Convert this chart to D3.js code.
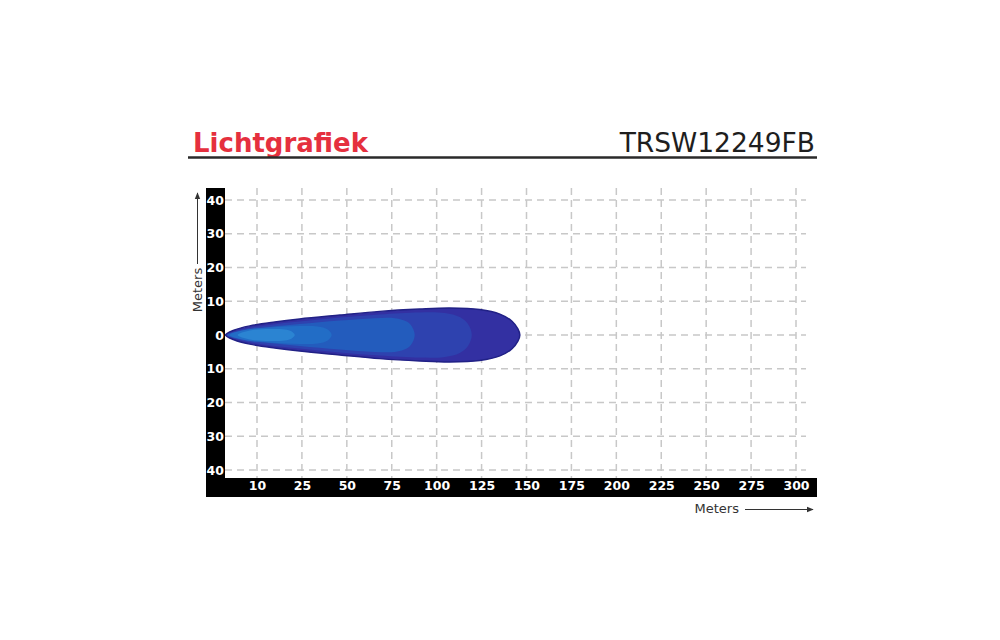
<!DOCTYPE html>
<html>
<head>
<meta charset="utf-8">
<script src="https://cdn.jsdelivr.net/npm/d3@7"></script>
<style>
  body { margin: 0; background: #fff; }
  svg { display: block; }
</style>
</head>
<body>
<svg id="chart" width="1000" height="640"></svg>
<script>
// chart data
var TITLE = "Lichtgrafiek";
var MODEL = "TRSW12249FB";
var X_TICKS = ["10", "25", "50", "75", "100", "125", "150", "175", "200", "225", "250", "275", "300"];
var Y_TICKS = [40, 30, 20, 10, 0, -10, -20, -30, -40];

// beam contours: [distance m, half width m], outer to inner
var ZONE_1 = [[-16.7, 0], [-11.7, 1.5], [-3.3, 2.7], [10.6, 3.85], [24.4, 4.75], [46.7, 5.9], [68.9, 7.0], [91.1, 7.7], [107.8, 8.0], [124.4, 7.55], [135.6, 6.2], [142.2, 4.15], [145.6, 1.8], [146.7, 0]];
var ZONE_2 = [[-16.1, 0], [-8.9, 1.5], [7.8, 3.0], [24.4, 4.0], [46.7, 5.2], [68.9, 6.1], [91.1, 6.7], [105, 6.5], [113.3, 5.3], [117.8, 3.3], [120, 0]];
var ZONE_3 = [[-15.6, 0], [-6.1, 1.5], [7.8, 2.4], [24.4, 3.25], [46.7, 4.3], [66.1, 5.0], [77.2, 5.0], [84.4, 3.85], [87.2, 2.1], [88.3, 0]];
var ZONE_4 = [[-14.4, 0], [-6.1, 1.5], [7.8, 2.2], [24.4, 2.65], [34.4, 2.5], [40, 1.6], [42.2, 0]];
var ZONE_5 = [[-10, 0], [-3.3, 1.33], [7.8, 1.78], [16.1, 1.63], [20, 1.04], [21.7, 0]];
var ZONE_COLORS = ["#3330a2", "#2e42af", "#235cbd", "#226dc6", "#2b84d2"];

var svg = d3.select("#chart");
var FONT = "Verdana, 'DejaVu Sans', sans-serif";

// scales
var xScale = d3.scaleLinear().domain([-17, 300]).range([225, 796]);
var xTickScale = d3.scalePoint().domain(X_TICKS).range([257, 796]);
var yScale = d3.scaleLinear().domain([-40, 40]).range([470, 200]);

// header
svg.append("text")
    .attr("x", 193).attr("y", 152)
    .attr("font-family", FONT)
    .attr("font-weight", "bold")
    .attr("font-size", 26)
    .attr("fill", "#e5303e")
    .text(TITLE);

svg.append("text")
    .attr("x", 815).attr("y", 152)
    .attr("text-anchor", "end")
    .attr("font-family", FONT)
    .attr("font-size", 26.5)
    .attr("fill", "#1e1e1e")
    .text(MODEL);

svg.append("line")
    .attr("x1", 188).attr("x2", 817)
    .attr("y1", 157.5).attr("y2", 157.5)
    .attr("stroke", "#2a2a2a")
    .attr("stroke-width", 2.5);

// grid
var grid = svg.append("g");
grid.selectAll(".hgrid")
    .data(Y_TICKS)
    .enter().append("line")
    .attr("x1", 225).attr("x2", 806)
    .attr("y1", d => yScale(d)).attr("y2", d => yScale(d))
    .attr("stroke", "#c8c8c8")
    .attr("stroke-width", 1.5)
    .attr("stroke-dasharray", "7,5");

grid.selectAll(".vgrid")
    .data(X_TICKS)
    .enter().append("line")
    .attr("x1", d => xTickScale(d)).attr("x2", d => xTickScale(d))
    .attr("y1", 188).attr("y2", 478)
    .attr("stroke", "#c8c8c8")
    .attr("stroke-width", 1.5)
    .attr("stroke-dasharray", "7,5");

// beam zones
function zonePoints(zone) {
    var top = zone.map(p => [xScale(p[0]), yScale(p[1])]);
    var bottom = zone.slice(1, -1).reverse().map(p => [xScale(p[0]), yScale(-p[1])]);
    return top.concat(bottom);
}

var shape = d3.line().curve(d3.curveCatmullRomClosed.alpha(0.5));
var zones = [ZONE_1, ZONE_2, ZONE_3, ZONE_4, ZONE_5];

var beam = svg.append("g");
beam.selectAll("path")
    .data(zones)
    .enter().append("path")
    .attr("d", d => shape(zonePoints(d)))
    .attr("fill", (d, i) => ZONE_COLORS[i])
    .attr("stroke", (d, i) => i == 0 ? "#212186" : "none")
    .attr("stroke-width", 1.5);

// black axis bars
svg.append("rect")
    .attr("x", 206).attr("y", 188)
    .attr("width", 19).attr("height", 309)
    .attr("fill", "#000");
svg.append("rect")
    .attr("x", 206).attr("y", 478)
    .attr("width", 611).attr("height", 19)
    .attr("fill", "#000");

// axis labels
var yAxis = svg.append("g")
    .attr("transform", "translate(224,0)")
    .call(d3.axisLeft(yScale).tickValues(Y_TICKS).tickSize(0).tickPadding(0).tickFormat(d => Math.abs(d)));
yAxis.select(".domain").remove();
yAxis.selectAll("text")
    .attr("fill", "#fff")
    .attr("font-family", FONT)
    .attr("font-weight", "bold")
    .attr("font-size", 12.5);

var xAxis = svg.append("g")
    .attr("transform", "translate(0,481)")
    .call(d3.axisBottom(xTickScale).tickSize(0).tickPadding(0));
xAxis.select(".domain").remove();
xAxis.selectAll("text")
    .attr("fill", "#fff")
    .attr("font-family", FONT)
    .attr("font-weight", "bold")
    .attr("font-size", 12.5);

// axis titles with arrows
var defs = svg.append("defs");
defs.append("marker")
    .attr("id", "arrow")
    .attr("viewBox", "0 0 10 10")
    .attr("refX", 9).attr("refY", 5)
    .attr("markerWidth", 7).attr("markerHeight", 7)
    .attr("orient", "auto")
    .append("path")
    .attr("d", "M0,1 L10,5 L0,9 Z")
    .attr("fill", "#333");

svg.append("text")
    .attr("transform", "translate(202,290) rotate(-90)")
    .attr("text-anchor", "middle")
    .attr("font-family", FONT)
    .attr("font-size", 13)
    .attr("fill", "#333")
    .text("Meters");
svg.append("line")
    .attr("x1", 197.5).attr("x2", 197.5)
    .attr("y1", 264).attr("y2", 193)
    .attr("stroke", "#333")
    .attr("stroke-width", 1)
    .attr("marker-end", "url(#arrow)");

svg.append("text")
    .attr("x", 739).attr("y", 513)
    .attr("text-anchor", "end")
    .attr("font-family", FONT)
    .attr("font-size", 13)
    .attr("fill", "#333")
    .text("Meters");
svg.append("line")
    .attr("x1", 745).attr("x2", 813)
    .attr("y1", 509.5).attr("y2", 509.5)
    .attr("stroke", "#333")
    .attr("stroke-width", 1)
    .attr("marker-end", "url(#arrow)");
</script>
</body>
</html>
